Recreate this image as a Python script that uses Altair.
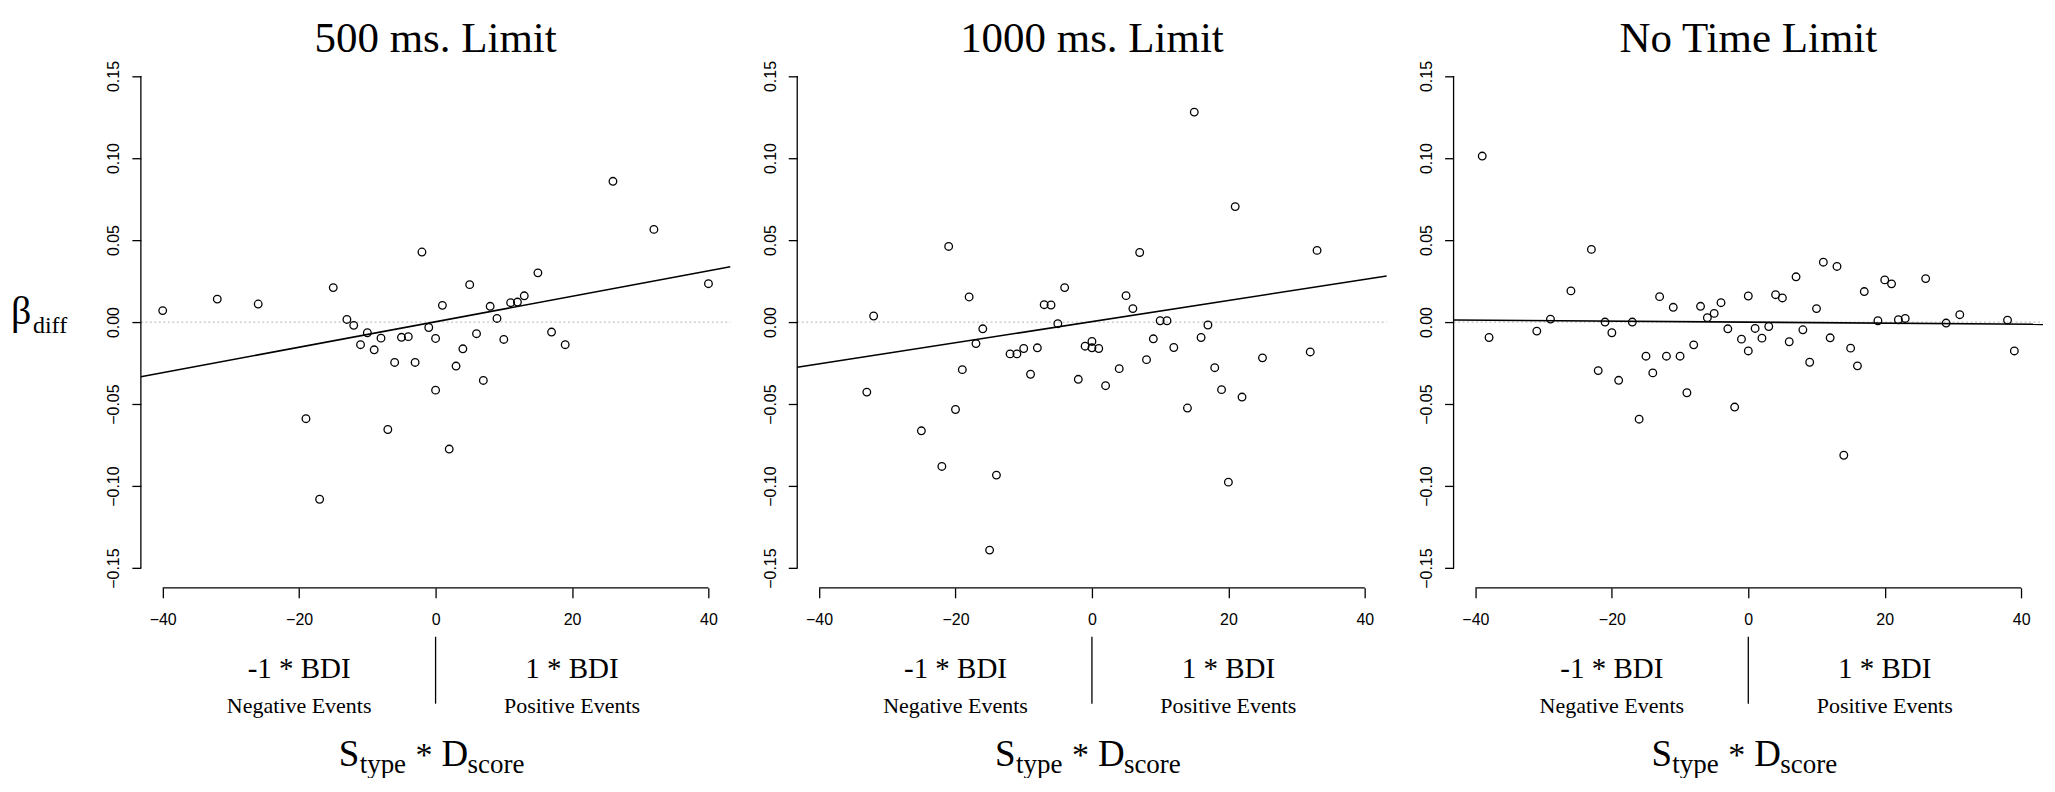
import altair as alt
import pandas as pd

# ---------------- data ----------------
titles = ["500 ms. Limit", "1000 ms. Limit", "No Time Limit"]

p1_x = [-40, -32, -26, -15, -13, -12, -10, -11, -9, -8, -6, -5, -4, -3, -2, -1, 0, 0, 1, 3,
        4, 5, 6, 7, 8, 9, 10, 11, 12, 13, 15, 17, 19, 26, 32, 40, -19, -7, 2, -17]
p1_y = [0.007, 0.014, 0.011, 0.021, 0.0016, -0.002, -0.0065, -0.0138, -0.0169, -0.0098,
        -0.0246, -0.0093, -0.0089, -0.0246, 0.0427, -0.0033, -0.010, -0.0415, 0.0102, -0.0268,
        -0.0163, 0.0228, -0.0071, -0.0356, 0.0096, 0.0022, -0.0106, 0.0118, 0.0122, 0.016,
        0.030, -0.0061, -0.0138, 0.0858, 0.0565, 0.0234, -0.0589, -0.0655, -0.0774, -0.108]

p2_x = [-32, -21, -18, -16, -17, -12, -11, -10, -8, -7, -6, -5, -4, -1, 0, 0, 1, 5, 6, 7,
        8, 9, 10, 11, 12, 15, 16, 17, 21, 25, 32, 33, -33, -19, -20, -25, -22, -14, -15, -9,
        -2, 2, 4, 14, 18, 19, 22, 20]
p2_y = [0.0037, 0.0461, 0.0153, -0.0041, -0.0131, -0.0194, -0.0194, -0.0161, -0.0157, 0.0106,
        0.0104, -0.001, 0.021, -0.0147, -0.0118, -0.0157, -0.0161, 0.0161, 0.0082, 0.0424,
        -0.0229, -0.0102, 0.0008, 0.0008, -0.0155, 0.128, -0.0094, -0.0018, 0.0704, -0.0218,
        -0.0182, 0.0437, -0.0427, -0.029, -0.0533, -0.0663, -0.088, -0.0933, -0.139, -0.0318,
        -0.0349, -0.0388, -0.0284, -0.0524, -0.0278, -0.0412, -0.0457, -0.0976]

p3_x = [-39, -38, -31, -29, -26, -23, -21, -20, -17, -15, -13, -12, -11, -10, -8, -7, -6, -5,
        -4, -3, -1, 0, 0, 1, 2, 3, 4, 5, 6, 7, 8, 9, 10, 11, 12, 13, 15, 17, 19, 20, 21, 22,
        23, 26, 29, 31, 38, 39, -22, -19, -14, -16, -9, -2, 14, 16]
p3_y = [0.1012, -0.0094, -0.0055, 0.0018, 0.019, 0.0443, 0.0, -0.0065, 0.0, -0.0208,
        0.0155, -0.0208, 0.009, -0.0208, -0.0139, 0.0096, 0.0027, 0.0053, 0.0118, -0.0041,
        -0.0104, 0.0159, -0.0176, -0.0039, -0.0098, -0.0027, 0.0167, 0.0147, -0.012, 0.0276,
        -0.0047, -0.0245, 0.0082, 0.0365, -0.0096, 0.0339, -0.0159, 0.0186, 0.0008, 0.0257,
        0.0233, 0.0014, 0.0022, 0.0265, -0.0006, 0.0045, 0.0012, -0.0176, -0.0296, -0.0355,
        -0.031, -0.0592, -0.0431, -0.0518, -0.0812, -0.0267]

# fitted regression lines (end points across the plot region)
fit_x = [-43.2, 43.2]
p1_fit = [-0.0333, 0.0337]
p2_fit = [-0.0275, 0.0281]
p3_fit = [0.0013, -0.0014]

x_ticks = [-40, -20, 0, 20, 40]
y_ticks = [-0.15, -0.10, -0.05, 0.0, 0.05, 0.10, 0.15]
zero_line = [0.0]

ann_x = [-20, 20]
ann_big = ["-1 * BDI", "1 * BDI"]
ann_small = ["Negative Events", "Positive Events"]
sep_x = [0]

# ---------------- layout / style ----------------
W, H = 590, 532
X_DOMAIN = [-43.2, 43.2]
Y_DOMAIN = [-0.162, 0.162]
SERIF = "Liberation Serif"
SANS = "Liberation Sans"

xsc = alt.Scale(domain=X_DOMAIN, nice=False, zero=False)
ysc = alt.Scale(domain=Y_DOMAIN, nice=False, zero=False)

xaxis = alt.Axis(values=x_ticks, format="d", domain=False, grid=False, title=None,
                 tickSize=10, tickColor="black", tickWidth=1.3,
                 labelFont=SANS, labelFontSize=16, labelColor="black",
                 labelPadding=27, labelBaseline="alphabetic", labelFlush=False,
                 labelOverlap=False, labelBound=False)
yaxis = alt.Axis(values=y_ticks, format=".2f", domain=False, grid=False, title=None,
                 tickSize=9, tickColor="black", tickWidth=1.3,
                 labelFont=SANS, labelFontSize=16, labelColor="black",
                 labelAngle=270, labelAlign="center", labelBaseline="alphabetic",
                 labelPadding=13, labelFlush=False, labelOverlap=False, labelBound=False)

X = lambda f="x": alt.X(f"{f}:Q", scale=xsc, axis=xaxis)
Y = lambda f="y": alt.Y(f"{f}:Q", scale=ysc, axis=yaxis)

one = pd.DataFrame({"k": [0]})


def txt(text, x, y, size, align="left"):
    return alt.Chart(one).mark_text(
        text=text, font=SERIF, fontSize=size, align=align, baseline="alphabetic",
        color="black").encode(x=alt.value(x), y=alt.value(y))


def panel(xs, ys, fit_y, title, show_beta):
    pts = pd.DataFrame({"x": xs, "y": ys})
    fit = pd.DataFrame({"x": fit_x, "y": fit_y})

    zero = alt.Chart(pd.DataFrame({"y": zero_line})).mark_rule(
        color="#c4c4c4", strokeDash=[2, 2.5], strokeWidth=1.2
    ).encode(y=Y(), x=alt.value(0), x2=alt.value(W))

    points = alt.Chart(pts).mark_point(
        shape="circle", filled=False, color="black", size=58, strokeWidth=1.3, opacity=1
    ).encode(x=X(), y=Y())

    line = alt.Chart(fit).mark_line(color="black", strokeWidth=1.6).encode(x=X(), y=Y())

    yline = alt.Chart(pd.DataFrame({"y": [y_ticks[0]], "y2": [y_ticks[-1]]})).mark_rule(
        color="black", strokeWidth=1.3
    ).encode(y=Y(), y2="y2:Q", x=alt.value(0))

    xline = alt.Chart(pd.DataFrame({"x": [x_ticks[0]], "x2": [x_ticks[-1]]})).mark_rule(
        color="black", strokeWidth=1.3
    ).encode(x=X(), x2="x2:Q", y=alt.value(H))

    ann = pd.DataFrame({"x": ann_x, "big": ann_big, "small": ann_small})
    big = alt.Chart(ann).mark_text(
        font=SERIF, fontSize=29, align="center", baseline="alphabetic", color="black"
    ).encode(x=X(), y=alt.value(622), text="big:N")
    small = alt.Chart(ann).mark_text(
        font=SERIF, fontSize=22, align="center", baseline="alphabetic", color="black"
    ).encode(x=X(), y=alt.value(657), text="small:N")
    sep = alt.Chart(pd.DataFrame({"x": sep_x})).mark_rule(
        color="black", strokeWidth=1.3
    ).encode(x=X(), y=alt.value(581), y2=alt.value(648))

    c = W / 2
    head = alt.Chart(one).mark_text(
        text=title, font=SERIF, fontSize=43, align="center", baseline="alphabetic",
        color="black").encode(x=alt.value(c), y=alt.value(-4))

    xt = [
        txt("S", c - 97, 710, 37),
        txt("type", c - 76, 717, 27),
        txt("*", c - 11.5, 710, 34, align="center"),
        txt("D", c + 6, 710, 37),
        txt("score", c + 32, 717, 27),
    ]

    layers = [zero, points, line, yline, xline, big, small, sep, head] + xt
    if show_beta:
        layers += [txt("β", -130, 268, 40), txt("diff", -108, 277, 24)]

    return alt.layer(*layers).properties(width=W, height=H)


p1 = panel(p1_x, p1_y, p1_fit, titles[0], True)
p2 = panel(p2_x, p2_y, p2_fit, titles[1], False)
p3 = panel(p3_x, p3_y, p3_fit, titles[2], False)

chart = alt.hconcat(p1, p2, p3, spacing=67, bounds="flush").properties(
    padding={"left": 3, "top": 10, "right": 0, "bottom": 0},
    background="white",
).configure_view(stroke=None)

chart.save("out.html", embed_options={"renderer": "svg", "actions": False})
